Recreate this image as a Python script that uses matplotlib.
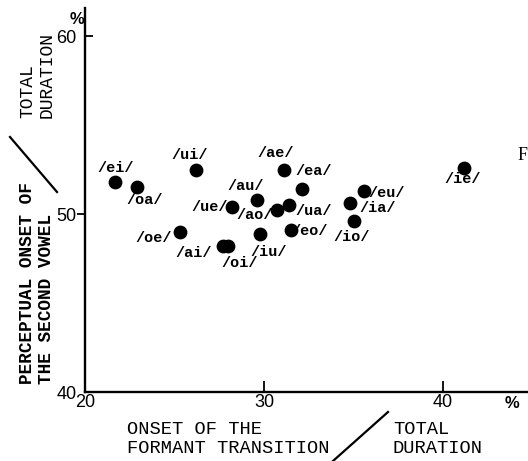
import matplotlib
matplotlib.use("Agg")
import matplotlib.pyplot as plt
import matplotlib.lines as mlines

# ---- data ----
labels = ["/ei/", "/oa/", "/ui/", "/ae/", "/ea/", "/au/", "/ue/", "/ao/", "/ua/",
          "/oe/", "/ai/", "/oi/", "/iu/", "/eo/", "/eu/", "/ia/", "/io/", "/ie/"]
onset_transition = [21.7, 22.9, 26.2, 31.1, 32.1, 29.6, 28.2, 30.7, 31.4,
                    25.3, 27.7, 28.0, 29.8, 31.5, 35.6, 34.8, 35.0, 41.2]
onset_vowel = [51.8, 51.5, 52.5, 52.5, 51.4, 50.8, 50.4, 50.2, 50.5,
               49.0, 48.2, 48.2, 48.9, 49.1, 51.3, 50.6, 49.6, 52.6]
x_ticks = [20, 30, 40]
y_ticks = [40, 50, 60]

# label offsets from each dot, in pixels (layout only)
label_offsets = [(0, 14), (8, -13), (-6, 15), (-8, 17), (12, 18), (-11, 14), (-22, 0),
                 (-22, -5), (25, -6), (-26, -6), (-29, -7), (11, -17), (8, -18),
                 (19, -1), (22, -2), (28, -5), (-2, -16), (-2, -11)]

W, H = 528, 461
fig = plt.figure(figsize=(W / 100, H / 100), dpi=100)

def fx(x):
    return x / W

def fy(y):
    return 1 - y / H

ax_left, ax_right, ax_top, ax_bottom = 85, 528, 8, 392
ax = fig.add_axes([fx(ax_left), fy(ax_bottom), (ax_right - ax_left) / W, (ax_bottom - ax_top) / H])
ax.set_xlim(20, 20 + (ax_right - ax_left) / 17.9)
ax.set_ylim(40, 40 + (ax_bottom - ax_top) / 17.8)

for s in ["top", "right"]:
    ax.spines[s].set_visible(False)
for s in ["left", "bottom"]:
    ax.spines[s].set_linewidth(1.7)
    ax.spines[s].set_color("black")

mono = "Liberation Mono"
sans = "Liberation Sans"

ax.scatter(onset_transition, onset_vowel, s=80, color="black", zorder=3, clip_on=False)
for lab, x, y, off in zip(labels, onset_transition, onset_vowel, label_offsets):
    ax.annotate(lab, (x, y), xytext=off, textcoords="offset pixels",
                ha="center", va="center", fontsize=11, fontweight="bold",
                family=mono, color="black")

ax.set_xticks(x_ticks)
ax.set_yticks(y_ticks)
ax.set_xticklabels([str(t) for t in x_ticks], family=sans, fontsize=13)
ax.set_yticklabels([str(t) for t in y_ticks], family=sans, fontsize=13)
ax.tick_params(axis="x", direction="in", length=8, width=1.3, pad=1.5)
ax.tick_params(axis="y", direction="out", length=6, width=1.3, pad=0)
yt = ax.yaxis.get_major_ticks()
yt[0].tick1line.set_visible(False)
yt[2].tick1line.set_marker(mlines.TICKRIGHT)
ax.xaxis.get_major_ticks()[0].tick1line.set_visible(False)

# percent signs
fig.text(fx(512), fy(403), "%", ha="center", va="center", fontsize=12, family=sans, fontweight="bold")
fig.text(fx(77), fy(20), "%", ha="center", va="center", fontsize=12, family=sans, fontweight="bold")

# x-axis label (fraction)
fig.text(fx(127), fy(429), "ONSET OF THE", ha="left", va="center", fontsize=13.5, family=mono)
fig.text(fx(127), fy(448), "FORMANT TRANSITION", ha="left", va="center", fontsize=13.5, family=mono)
fig.text(fx(393), fy(429), "TOTAL", ha="left", va="center", fontsize=13.5, family=mono)
fig.text(fx(393), fy(448), "DURATION", ha="left", va="center", fontsize=13.5, family=mono)
fig.add_artist(mlines.Line2D([fx(388), fx(333)], [fy(412), fy(461)], color="black", lw=1.6,
                             transform=fig.transFigure))

# y-axis label (fraction)
fig.text(fx(28), fy(384), "PERCEPTUAL ONSET OF", rotation=90, ha="center", va="bottom",
         fontsize=12.8, family=mono, fontweight="bold")
fig.text(fx(47), fy(384), "THE SECOND VOWEL", rotation=90, ha="center", va="bottom",
         fontsize=12.8, family=mono, fontweight="bold")
fig.text(fx(28), fy(118), "TOTAL", rotation=90, ha="center", va="bottom",
         fontsize=13, family=mono)
fig.text(fx(47), fy(118), "DURATION", rotation=90, ha="center", va="bottom",
         fontsize=13, family=mono)
fig.add_artist(mlines.Line2D([fx(10), fx(57)], [fy(137), fy(192)], color="black", lw=1.6,
                             transform=fig.transFigure))

# cut-off caption letter at right edge
fig.text(fx(518), fy(155), "F", ha="left", va="center", fontsize=13, family="Liberation Serif")

fig.savefig("out.png", dpi=100)
